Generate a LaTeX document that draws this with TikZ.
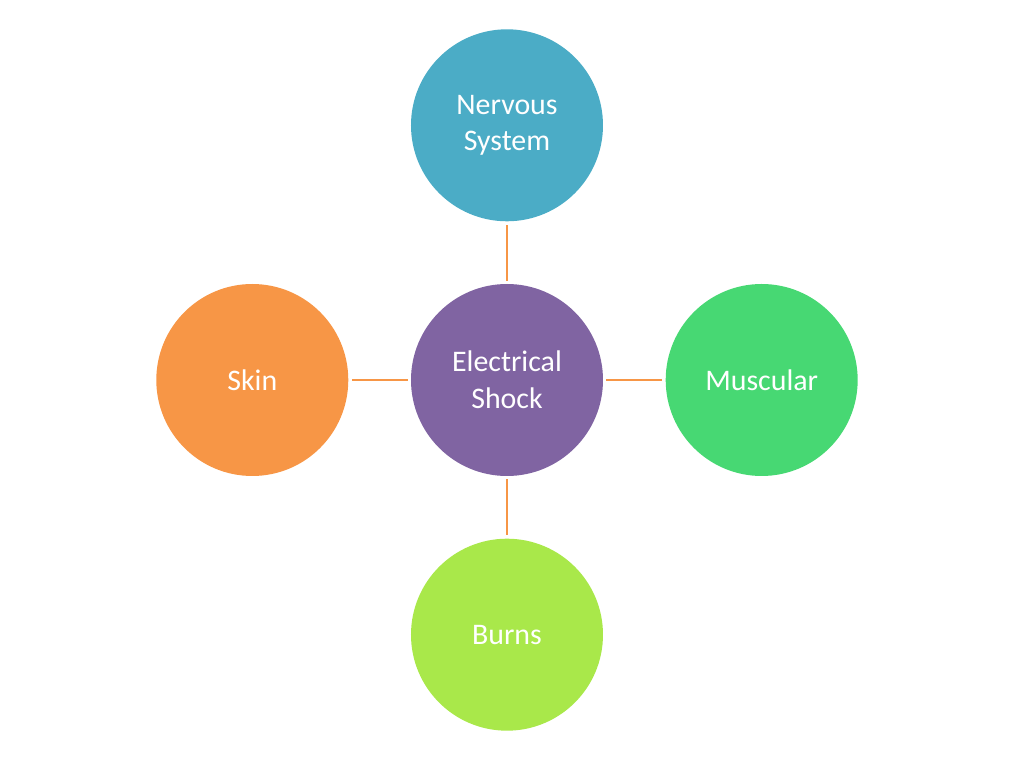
\documentclass[tikz,border=0pt]{standalone}
\usepackage{fontspec}
\setmainfont{Carlito}
\usetikzlibrary{positioning}
\definecolor{nervcol}{HTML}{4BACC6}
\definecolor{shockcol}{HTML}{8064A2}
\definecolor{skincol}{HTML}{F79646}
\definecolor{muscol}{HTML}{47D873}
\definecolor{burncol}{HTML}{A9E84A}
\tikzset{
  hub/.style={circle,minimum size=3.84cm,inner sep=0pt,text=white,align=center,
              font=\fontsize{17}{21}\selectfont},
  link/.style={draw=skincol,line width=1.2pt,shorten <=0.06cm,shorten >=0.06cm}
}
\begin{document}
\begin{tikzpicture}[node distance=1.24cm]
	\useasboundingbox (-10.14,7.6) rectangle (10.34,-7.76);
	%nodes
	\node[hub,fill=shockcol] (shock) at (0,0) {Electrical\\Shock};
	\node[hub,fill=nervcol,above=of shock] (nerv) {Nervous\\System};
	\node[hub,fill=burncol,below=of shock] (burn) {Burns};
	\node[hub,fill=skincol,left=of shock] (skin) {Skin};
	\node[hub,fill=muscol,right=of shock] (mus) {Muscular};
	%links
	\draw[link] (shock) -- (nerv);
	\draw[link] (shock) -- (burn);
	\draw[link] (shock) -- (skin);
	\draw[link] (shock) -- (mus);
\end{tikzpicture}
\end{document}
